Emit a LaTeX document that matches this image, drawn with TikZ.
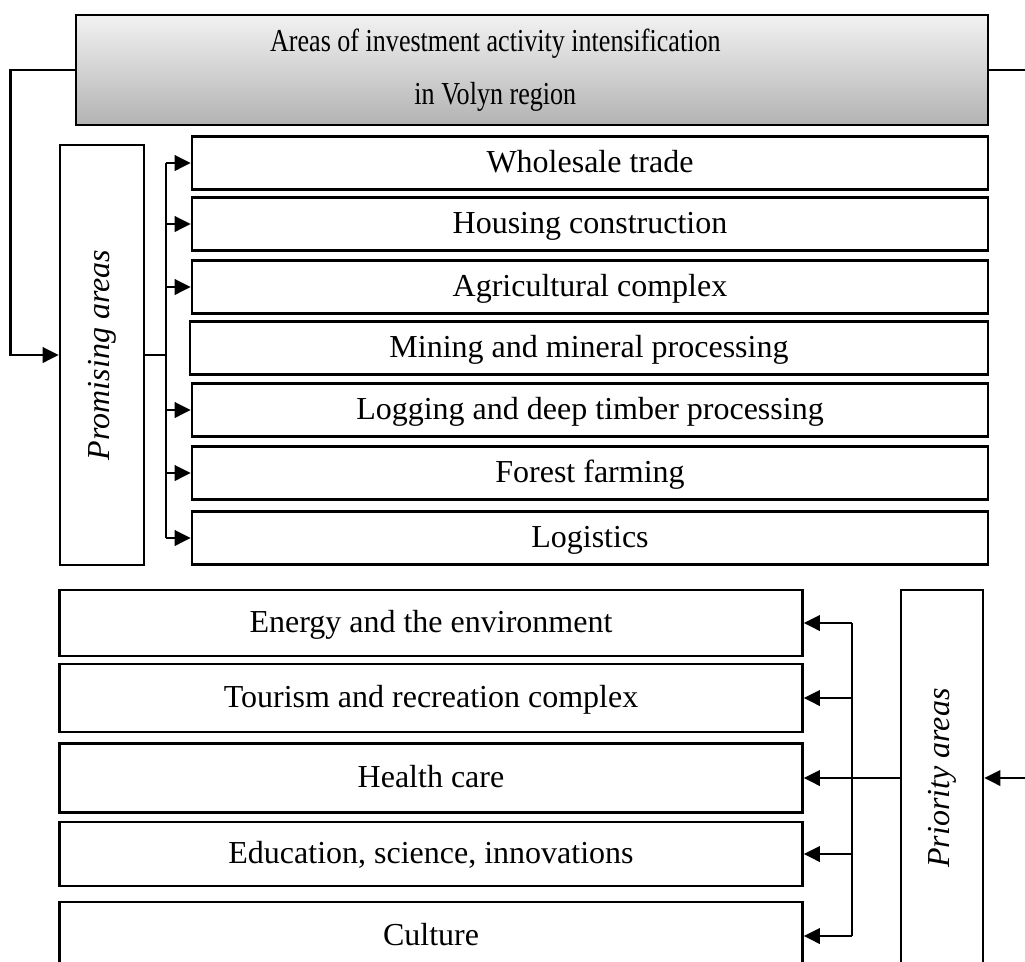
\documentclass[tikz,border=0pt]{standalone}
\usepackage{fontspec}
\setmainfont{Liberation Serif}
\usetikzlibrary{arrows.meta}

\tikzset{
  box/.style={draw,line width=1.9pt,minimum width=597pt,minimum height=39.75pt,inner sep=0pt,
    text height=19pt,text depth=5pt,font=\fontsize{24}{28}\selectfont},
  lowbox/.style={box,minimum width=557.25pt},
  sidebox/.style={draw,line width=1.9pt,inner sep=0pt,font=\fontsize{24}{28}\selectfont\itshape},
  arr/.style={line width=1.9pt,-{Triangle[length=12pt,width=11.5pt]}},
  link/.style={line width=1.9pt}
}

\begin{document}
\begin{tikzpicture}[x=0.75pt,y=-0.75pt]
    \useasboundingbox (0,0) rectangle (1025,961);
    \clip (0,0) rectangle (1025,961);

    % title
    \node[draw,line width=1.9pt,minimum width=684pt,minimum height=82.5pt,top color=gray!10,bottom color=gray!60,
          align=center,font=\fontsize{24}{40}\selectfont] (top) at (532,70)
      {\hspace*{-55pt}\scalebox{0.815}[1]{Areas of investment activity intensification}\\
       \hspace*{-55pt}\scalebox{0.815}[1]{in Volyn region}};

    % promising areas
    \node[sidebox,minimum width=63pt,minimum height=315pt] (prom) at (102,355) {\rotatebox{90}{Promising areas}};
    \node[box] (wholesale) at (590,163) {Wholesale trade};
    \node[box] (housing) at (590,224) {Housing construction};
    \node[box] (agri) at (590,287) {Agricultural complex};
    \node[box,minimum width=598.5pt] (mining) at (589,348) {Mining and mineral processing};
    \node[box] (logging) at (590,410) {Logging and deep timber processing};
    \node[box] (forest) at (590,473) {Forest farming};
    \node[box] (logist) at (590,538) {Logistics};

    % priority areas
    \node[sidebox,minimum width=61.5pt,minimum height=282pt] (prio) at (942,778) {\rotatebox{90}{Priority areas}};
    \node[lowbox,minimum height=49.5pt] (energy) at (431,623) {Energy and the environment};
    \node[lowbox,minimum height=51pt] (tourism) at (431,698) {Tourism and recreation complex};
    \node[lowbox,minimum height=51.75pt] (health) at (431,778) {Health care};
    \node[lowbox,minimum height=48pt] (edu) at (431,854) {Education, science, innovations};
    \node[lowbox,minimum height=51pt] (culture) at (431,936) {Culture};

    % from the title
    \draw[arr] (top.west) -- ++(-64,0) |- (prom.west);
    \draw[arr] (top.east) -- ++(60,0) |- (prio.east);

    \coordinate (pbus) at (166,355);
    \draw[link] (prom.east) -- (pbus);
    \draw[link] (pbus |- wholesale.west) -- (pbus |- logist.west);
    \foreach \n in {wholesale,housing,agri,logging,forest,logist}
      \draw[arr] (pbus |- \n.west) -- (\n.west);

    \coordinate (qbus) at (852,778);
    \draw[link] (prio.west) -- (qbus);
    \draw[link] (qbus |- energy.east) -- (qbus |- culture.east);
    \foreach \n in {energy,tourism,health,edu,culture}
      \draw[arr] (qbus |- \n.east) -- (\n.east);
\end{tikzpicture}
\end{document}
